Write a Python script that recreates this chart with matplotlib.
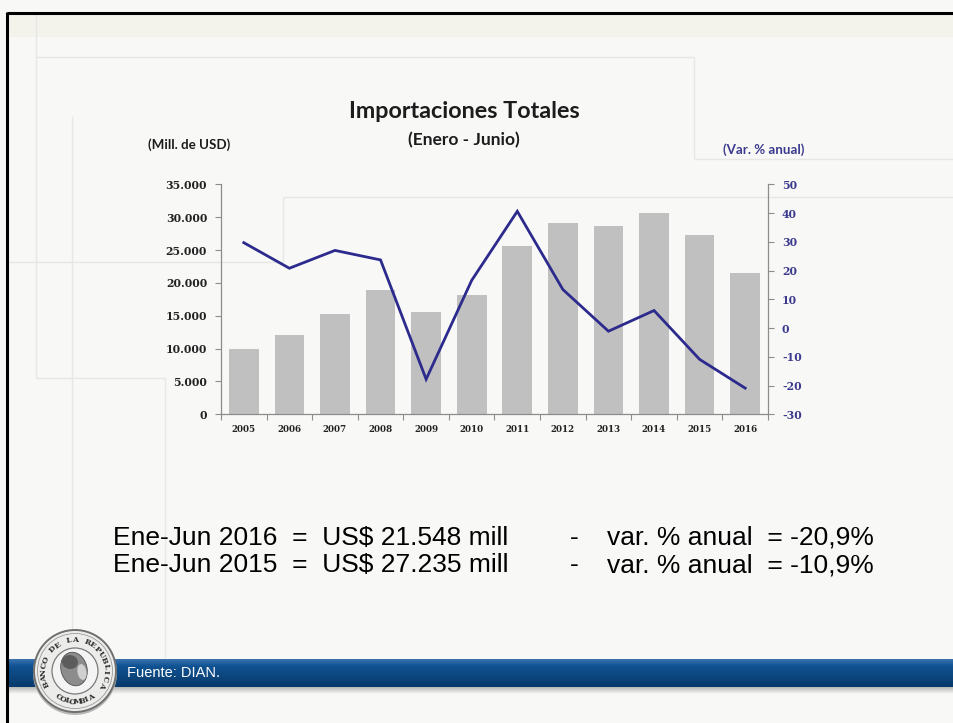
import numpy as np
import matplotlib
matplotlib.use("Agg")
import matplotlib.pyplot as plt
from matplotlib import font_manager
from matplotlib.patches import Circle, Ellipse, Rectangle
from matplotlib.ticker import FixedLocator, FuncFormatter

# ---- data ----
years = ["2005", "2006", "2007", "2008", "2009", "2010",
         "2011", "2012", "2013", "2014", "2015", "2016"]
imports_musd = [10000, 12000, 15250, 18850, 15500, 18200,
                25600, 29100, 28700, 30565, 27235, 21548]
growth_pct = [29.7, 20.8, 27.0, 23.7, -17.8, 16.6,
              40.6, 13.4, -1.1, 6.1, -10.9, -20.9]
left_ticks = [0, 5000, 10000, 15000, 20000, 25000, 30000, 35000]
right_ticks = [-30, -20, -10, 0, 10, 20, 30, 40, 50]

W, H = 954, 723
BG = "#f8f8f7"
LINE_BLUE = "#2c2a8c"
AXIS_BLUE = "#3b3a8e"
BAR_GRAY = "#c0c0c0"
SPINE_GRAY = "#8c8c8c"
DECO = "#e7e7e5"

available = {f.name for f in font_manager.fontManager.ttflist}
narrow = "Liberation Sans Narrow" if "Liberation Sans Narrow" in available else "Liberation Sans"

fig = plt.figure(figsize=(W / 100, H / 100), dpi=100, facecolor=BG)

# full-figure canvas in pixel units for the slide decoration
bg = fig.add_axes([0, 0, 1, 1], zorder=0)
bg.set_xlim(0, W)
bg.set_ylim(H, 0)
bg.axis("off")
bg.set_facecolor(BG)

# pale band along the top
bg.add_patch(Rectangle((8, 14), W, 23, color="#f3f3ec", lw=0, zorder=0))

# faint frame lines
segments = [
    ((36, 14), (36, 378)), ((36, 378), (165, 378)), ((165, 378), (165, 658)),
    ((36, 57), (694, 57)), ((694, 57), (694, 159)), ((694, 159), (W, 159)),
    ((72, 116), (72, 658)), ((8, 262), (283, 262)), ((283, 197), (283, 262)),
    ((283, 197), (W, 197)),
]
for (x0, y0), (x1, y1) in segments:
    bg.plot([x0, x1], [y0, y1], color=DECO, lw=1.0, zorder=1,
            solid_capstyle="butt")

# black slide border (top and left)
bg.plot([7, W], [12.5, 12.5], color="black", lw=2.2, zorder=5, solid_capstyle="butt")
bg.plot([7.3, 7.3], [11.5, H], color="black", lw=2.2, zorder=5, solid_capstyle="butt")

# blue banner with vertical gradient and soft shadow
shadow = np.linspace(0, 1, 40).reshape(-1, 1)
shadow_rgb = np.zeros((40, 1, 4))
shadow_rgb[..., :3] = 0.45
shadow_rgb[..., 3] = (1 - shadow) * 0.55
bg.imshow(shadow_rgb, extent=[9, W, 694, 686], aspect="auto", zorder=2,
          interpolation="bilinear")
top_c = np.array([0x3a, 0x74, 0xae]) / 255
mid_c = np.array([0x10, 0x52, 0x92]) / 255
bot_c = np.array([0x08, 0x3a, 0x6a]) / 255
t = np.linspace(0, 1, 60)
grad = np.empty((60, 1, 3))
for i, v in enumerate(t):
    if v < 0.25:
        c = top_c + (mid_c - top_c) * (v / 0.25)
    else:
        c = mid_c + (bot_c - mid_c) * ((v - 0.25) / 0.75)
    grad[i, 0] = c
bg.imshow(grad, extent=[9, W, 687, 659], aspect="auto", zorder=3,
          interpolation="bilinear")
bg.text(127, 673, "Fuente: DIAN.", color="white", fontsize=10.5,
        family=narrow, va="center", ha="left", zorder=6)

# bank seal
cx, cy, r = 75, 671, 41
bg.add_patch(Circle((cx, cy + 2), r + 1, color="#b8b8b8", lw=0, zorder=6))
bg.add_patch(Circle((cx, cy), r, facecolor="#ececea", edgecolor="#6f6f6f",
                    lw=1.4, zorder=7))
bg.add_patch(Circle((cx, cy), r - 3.5, facecolor="none", edgecolor="#9a9a9a",
                    lw=0.6, zorder=7))
bg.add_patch(Circle((cx, cy), 23, facecolor="#f4f4f4", edgecolor="#7a7a7a",
                    lw=0.9, zorder=7))
bg.add_patch(Ellipse((cx - 1, cy - 2), 26, 34, angle=-15, facecolor="#8c8c8c",
                     edgecolor="#4f4f4f", lw=0.6, zorder=8))
bg.add_patch(Ellipse((cx - 5, cy - 9), 16, 14, angle=10, facecolor="#5c5c5c",
                     lw=0, zorder=8))
bg.add_patch(Ellipse((cx + 7, cy + 1), 9, 16, angle=-10, facecolor="#d0d0d0",
                     lw=0, zorder=8))


def arc_text(s, theta0, theta1, radius, upright_bottom=False):
    angs = np.linspace(theta0, theta1, len(s))
    for ch, a in zip(s, angs):
        ar = np.deg2rad(a)
        x = cx + radius * np.cos(ar)
        y = cy - radius * np.sin(ar)
        rot = a + 90 if upright_bottom else a - 90
        bg.text(x, y, ch, fontsize=5.6, family="DejaVu Serif", weight="bold",
                color="#2e2e2e", rotation=rot, ha="center", va="center",
                rotation_mode="anchor", zorder=9)


arc_text("BANCO DE LA REPUBLICA", 205, -25, r - 10)
arc_text("COLOMBIA", 238, 302, r - 10, upright_bottom=True)


# ---- chart ----
def fx(px):
    return px / W


def fy(py):
    return 1 - py / H


ax = fig.add_axes([fx(221), fy(414.3), (768 - 221) / W, (414.3 - 184.3) / H],
                  zorder=2)
ax.patch.set_alpha(0)
x = np.arange(len(years))
ax.bar(x, imports_musd, width=0.65, color=BAR_GRAY, zorder=2)
ax.set_xlim(-0.5, len(years) - 0.5)
ax.set_ylim(0, 35000)
ax.yaxis.set_major_locator(FixedLocator(left_ticks))
ax.yaxis.set_major_formatter(FuncFormatter(lambda v, p: f"{int(v):,}".replace(",", ".")))
ax.set_xticks(x)
ax.set_xticklabels(years)
ax.xaxis.set_minor_locator(FixedLocator(np.arange(-0.5, len(years), 1.0)))
ax.tick_params(axis="x", which="major", length=0, pad=8)
ax.tick_params(axis="x", which="minor", length=4, width=0.8, color=SPINE_GRAY,
               direction="out")
ax.tick_params(axis="y", length=4, width=0.8, color=SPINE_GRAY, pad=6,
               direction="out")
for sp in ("top", "right"):
    ax.spines[sp].set_visible(False)
for sp in ("left", "bottom"):
    ax.spines[sp].set_color(SPINE_GRAY)
    ax.spines[sp].set_linewidth(0.9)
for lab in ax.get_yticklabels():
    lab.set_fontfamily("DejaVu Serif")
    lab.set_fontweight("bold")
    lab.set_fontsize(7.8)
    lab.set_color("#222222")
for lab in ax.get_xticklabels():
    lab.set_fontfamily("DejaVu Serif")
    lab.set_fontweight("bold")
    lab.set_fontsize(6.3)
    lab.set_color("#222222")

ax2 = ax.twinx()
ax2.patch.set_alpha(0)
ax2.plot(x, growth_pct, color=LINE_BLUE, lw=2.0, zorder=3,
         solid_joinstyle="miter")
ax2.set_ylim(-30, 50)
ax2.yaxis.set_major_locator(FixedLocator(right_ticks))
ax2.yaxis.set_major_formatter(FuncFormatter(lambda v, p: f"{int(v)}"))
ax2.tick_params(axis="y", length=4, width=0.8, color=SPINE_GRAY, pad=6,
                direction="out")
for sp in ("top", "left", "bottom"):
    ax2.spines[sp].set_visible(False)
ax2.spines["right"].set_color(SPINE_GRAY)
ax2.spines["right"].set_linewidth(0.9)
for lab in ax2.get_yticklabels():
    lab.set_fontfamily("DejaVu Serif")
    lab.set_fontweight("bold")
    lab.set_fontsize(7.8)
    lab.set_color(AXIS_BLUE)

# titles and axis captions
fig.text(fx(464), fy(111), "Importaciones Totales", ha="center", va="center",
         fontsize=16.8, family="Lato", weight="bold", color="#1c1c1c")
fig.text(fx(464), fy(140), "(Enero - Junio)", ha="center", va="center",
         fontsize=12.5, family="Lato", weight="bold", color="#1c1c1c")
fig.text(fx(189), fy(145), "(Mill. de USD)", ha="center", va="center",
         fontsize=9.6, family="Lato", weight="bold", color="#1c1c1c")
fig.text(fx(764), fy(150), "(Var. % anual)", ha="center", va="center",
         fontsize=9.6, family="Lato", weight="bold", color=AXIS_BLUE)

# summary lines
summary_font = dict(fontsize=19, family="Liberation Sans", color="black",
                    va="baseline")
fig.text(fx(113), fy(545), "Ene-Jun 2016  =  US$ 21.548 mill", ha="left", **summary_font)
fig.text(fx(113), fy(572), "Ene-Jun 2015  =  US$ 27.235 mill", ha="left", **summary_font)
fig.text(fx(570), fy(545), "-", ha="left", **summary_font)
fig.text(fx(570), fy(572), "-", ha="left", **summary_font)
fig.text(fx(607), fy(545), "var. % anual  = -20,9%", ha="left", **summary_font)
fig.text(fx(607), fy(572), "var. % anual  = -10,9%", ha="left", **summary_font)

fig.savefig("out.png", dpi=100, facecolor=BG)
